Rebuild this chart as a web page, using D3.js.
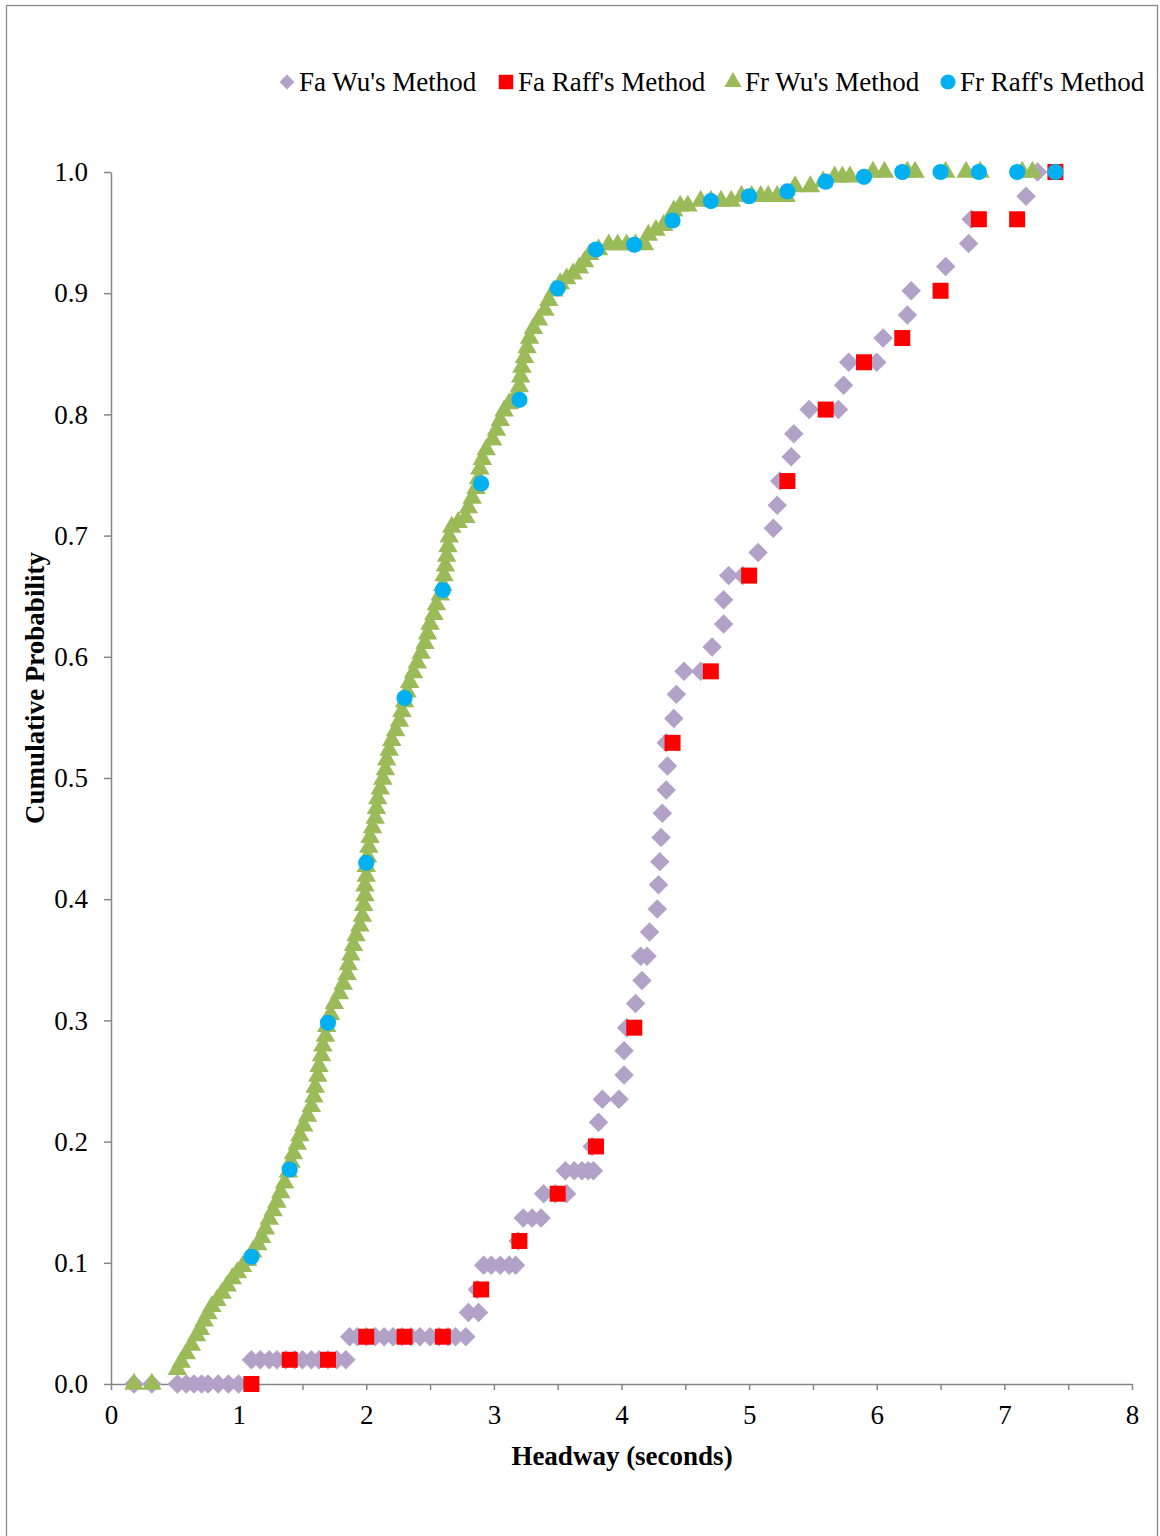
<!DOCTYPE html>
<html>
<head>
<meta charset="utf-8">
<script src="https://cdn.jsdelivr.net/npm/d3@7"></script>
<style>
    body { margin: 0; background: #fff; }
    svg text { font-family: 'Liberation Serif', 'Times New Roman', serif; fill: #000; }
</style>
</head>
<body>
<div id="chart"></div>
<script>
// series names, in legend order
const SERIES = ["Fa Wu's Method", "Fa Raff's Method", "Fr Wu's Method", "Fr Raff's Method"];
const COLORS = ['#b3a2c7', '#ff0000', '#9bbb59', '#00b0f0'];

// Raff's method: one point per 0.3 s bin
const RAFF_X = [1.1, 1.4, 1.7, 2.0, 2.3, 2.6, 2.9, 3.2, 3.5, 3.8, 4.1, 4.4, 4.7, 5.0, 5.3, 5.6, 5.9, 6.2, 6.5, 6.8, 7.1, 7.4];
const FA_RAFF_Y = [0, 0.020, 0.020, 0.039, 0.039, 0.039, 0.078, 0.118, 0.157, 0.196, 0.294, 0.529, 0.588, 0.667, 0.745, 0.804, 0.843, 0.863, 0.902, 0.961, 0.961, 1.0];
const FR_RAFF_Y = [0.105, 0.177, 0.298, 0.430, 0.566, 0.655, 0.743, 0.812, 0.904, 0.936, 0.940, 0.960, 0.976, 0.980, 0.984, 0.992, 0.996, 1.0, 1.0, 1.0, 1.0, 1.0];

// Wu's method, Fa: [headway, cumulative probability]
const FA_WU = [
    [0.18, 0], [0.32, 0], [0.52, 0], [0.59, 0], [0.65, 0], [0.71, 0], [0.76, 0], [0.84, 0], [0.92, 0], [1.0, 0],
    [1.10, 0.020], [1.17, 0.020], [1.24, 0.020], [1.30, 0.020], [1.37, 0.020], [1.44, 0.020], [1.50, 0.020],
    [1.57, 0.020], [1.63, 0.020], [1.70, 0.020], [1.77, 0.020], [1.84, 0.020],
    [1.87, 0.039], [1.93, 0.039], [2.00, 0.039], [2.07, 0.039], [2.14, 0.039], [2.21, 0.039], [2.28, 0.039],
    [2.35, 0.039], [2.42, 0.039], [2.50, 0.039], [2.57, 0.039], [2.64, 0.039], [2.70, 0.039], [2.78, 0.039],
    [2.80, 0.059], [2.88, 0.059], [2.87, 0.078],
    [2.92, 0.098], [2.98, 0.098], [3.05, 0.098], [3.12, 0.098], [3.17, 0.098], [3.19, 0.118],
    [3.23, 0.137], [3.30, 0.137], [3.37, 0.137], [3.39, 0.157], [3.48, 0.157], [3.57, 0.157],
    [3.56, 0.176], [3.63, 0.176], [3.69, 0.176], [3.74, 0.176], [3.78, 0.176],
    [3.77, 0.196], [3.82, 0.216], [3.85, 0.235], [3.98, 0.235], [4.02, 0.255], [4.02, 0.275], [4.04, 0.294],
    [4.11, 0.314], [4.16, 0.333], [4.15, 0.353], [4.20, 0.353], [4.22, 0.373], [4.28, 0.392], [4.29, 0.412],
    [4.30, 0.431], [4.31, 0.451], [4.32, 0.471], [4.35, 0.490], [4.36, 0.510], [4.35, 0.529], [4.41, 0.549],
    [4.43, 0.569], [4.49, 0.588], [4.62, 0.588], [4.71, 0.608], [4.80, 0.627], [4.80, 0.647], [4.84, 0.667],
    [4.95, 0.667], [5.07, 0.686], [5.19, 0.706], [5.22, 0.725], [5.24, 0.745], [5.33, 0.765], [5.35, 0.784],
    [5.47, 0.804], [5.70, 0.804], [5.74, 0.824], [5.78, 0.843], [6.00, 0.843], [6.05, 0.863], [6.24, 0.882],
    [6.27, 0.902], [6.54, 0.922], [6.72, 0.941], [6.74, 0.961], [7.17, 0.980], [7.26, 1.0]
];

// Wu's method, Fr: [headway, cumulative probability]
const FR_WU = [
    [0.18, 0], [0.32, 0], [0.52, 0.012], [0.55, 0.018], [0.59, 0.025], [0.63, 0.032], [0.67, 0.040],
    [0.70, 0.045], [0.73, 0.052], [0.76, 0.058], [0.79, 0.064], [0.83, 0.069], [0.87, 0.075], [0.91, 0.081],
    [0.95, 0.087], [0.99, 0.092], [1.03, 0.097], [1.07, 0.102], [1.11, 0.109], [1.15, 0.115], [1.18, 0.121],
    [1.21, 0.128], [1.24, 0.136], [1.27, 0.143], [1.30, 0.150], [1.33, 0.158], [1.36, 0.166], [1.39, 0.175],
    [1.41, 0.183], [1.43, 0.190], [1.46, 0.198], [1.48, 0.205], [1.51, 0.213], [1.54, 0.221], [1.57, 0.229],
    [1.59, 0.237], [1.60, 0.245], [1.62, 0.254], [1.63, 0.262], [1.65, 0.271], [1.66, 0.279], [1.68, 0.287],
    [1.69, 0.295], [1.72, 0.305], [1.75, 0.314], [1.79, 0.322], [1.82, 0.330], [1.85, 0.338], [1.86, 0.346],
    [1.88, 0.354], [1.90, 0.362], [1.92, 0.370], [1.95, 0.378], [1.97, 0.386], [1.98, 0.395], [1.99, 0.403],
    [1.99, 0.411], [2.00, 0.419], [2.00, 0.427], [2.01, 0.435], [2.02, 0.443], [2.03, 0.451], [2.05, 0.459],
    [2.07, 0.467], [2.08, 0.475], [2.09, 0.483], [2.11, 0.491], [2.13, 0.499], [2.15, 0.507], [2.16, 0.515],
    [2.18, 0.523], [2.20, 0.531], [2.23, 0.539], [2.26, 0.547], [2.28, 0.555], [2.30, 0.563], [2.32, 0.571],
    [2.34, 0.579], [2.37, 0.587], [2.40, 0.595], [2.43, 0.603], [2.46, 0.611], [2.48, 0.619], [2.50, 0.627],
    [2.53, 0.635], [2.55, 0.643], [2.58, 0.651], [2.60, 0.659], [2.61, 0.667], [2.62, 0.675], [2.63, 0.683],
    [2.64, 0.691], [2.65, 0.699], [2.67, 0.707], [2.72, 0.711], [2.78, 0.715], [2.80, 0.723], [2.83, 0.731],
    [2.86, 0.739], [2.88, 0.747], [2.89, 0.755], [2.91, 0.763], [2.94, 0.771], [2.99, 0.779], [3.02, 0.787],
    [3.05, 0.795], [3.08, 0.803], [3.12, 0.809], [3.17, 0.815], [3.20, 0.823], [3.21, 0.831], [3.22, 0.839],
    [3.24, 0.847], [3.26, 0.855], [3.28, 0.863], [3.31, 0.871], [3.35, 0.878], [3.40, 0.886], [3.43, 0.894],
    [3.47, 0.902], [3.52, 0.908], [3.57, 0.912], [3.62, 0.916], [3.67, 0.921], [3.71, 0.926], [3.75, 0.932],
    [3.82, 0.936], [3.90, 0.940], [3.97, 0.940], [4.04, 0.940], [4.11, 0.940], [4.18, 0.940], [4.21, 0.948],
    [4.27, 0.952], [4.33, 0.956], [4.38, 0.960], [4.41, 0.968], [4.46, 0.972], [4.52, 0.972], [4.62, 0.976],
    [4.70, 0.976], [4.78, 0.976], [4.86, 0.976], [4.94, 0.980], [5.02, 0.980], [5.09, 0.980], [5.15, 0.980],
    [5.22, 0.980], [5.29, 0.980], [5.36, 0.988], [5.48, 0.988], [5.58, 0.992], [5.67, 0.996], [5.73, 0.996],
    [5.79, 0.996], [5.97, 1.0], [6.06, 1.0], [6.24, 1.0], [6.30, 1.0], [6.54, 1.0], [6.70, 1.0], [6.81, 1.0],
    [7.14, 1.0], [7.22, 1.0]
];

const X_TICKS = [0, 0.5, 1, 1.5, 2, 2.5, 3, 3.5, 4, 4.5, 5, 5.5, 6, 6.5, 7, 7.5, 8];
const Y_TICKS = [0, 0.1, 0.2, 0.3, 0.4, 0.5, 0.6, 0.7, 0.8, 0.9, 1.0];
const X_TITLE = 'Headway (seconds)';
const Y_TITLE = 'Cumulative Probability';

const W = 1160;
const H = 1536;
const plot = { left: 111, right: 1132, top: 172, bottom: 1384 };
const AXIS_COLOR = '#868686';
const FONT_SIZE = 27;

const svg = d3.select('#chart')
    .append('svg')
    .attr('width', W)
    .attr('height', H);

// outer chart border
svg.append('rect')
    .attr('x', 6.5)
    .attr('y', 5.5)
    .attr('width', 1151)
    .attr('height', 1560)
    .attr('fill', '#fff')
    .attr('stroke', '#8c8c8c')
    .attr('stroke-width', 1.3);

const xScale = d3.scaleLinear().domain([0, 8]).range([plot.left, plot.right]);
const yScale = d3.scaleLinear().domain([0, 1]).range([plot.bottom, plot.top]);

// axes
const xAxis = d3.axisBottom(xScale)
    .tickValues(X_TICKS)
    .tickSize(6)
    .tickSizeOuter(0)
    .tickPadding(15)
    .tickFormat((d) => (Number.isInteger(d) ? d : ''));

const yAxis = d3.axisLeft(yScale)
    .tickValues(Y_TICKS)
    .tickSize(7)
    .tickSizeOuter(0)
    .tickPadding(16)
    .tickFormat(d3.format('.1f'));

const styleAxis = (g) => {
    g.select('.domain').attr('stroke', AXIS_COLOR).attr('stroke-width', 1.5);
    g.selectAll('.tick line').attr('stroke', AXIS_COLOR).attr('stroke-width', 1.5);
    g.selectAll('.tick text')
        .attr('font-family', "'Liberation Serif', 'Times New Roman', serif")
        .attr('font-size', FONT_SIZE)
        .attr('fill', '#000');
};

svg.append('g')
    .attr('transform', 'translate(0,' + plot.bottom + ')')
    .call(xAxis)
    .call(styleAxis);

svg.append('g')
    .attr('transform', 'translate(' + plot.left + ',0)')
    .call(yAxis)
    .call(styleAxis);

// axis titles
svg.append('text')
    .attr('x', 622)
    .attr('y', 1465)
    .attr('text-anchor', 'middle')
    .attr('font-size', FONT_SIZE)
    .attr('font-weight', 'bold')
    .text(X_TITLE);

svg.append('text')
    .attr('transform', 'translate(44,688) rotate(-90)')
    .attr('text-anchor', 'middle')
    .attr('font-size', FONT_SIZE)
    .attr('font-weight', 'bold')
    .text(Y_TITLE);

// marker shapes for each series
const SYMBOLS = [
    { type: d3.symbolSquare, size: 190, rotate: 45 },
    { type: d3.symbolSquare, size: 256, rotate: 0 },
    { type: d3.symbolTriangle, size: 165, rotate: 0 },
    { type: d3.symbolCircle, size: 205, rotate: 0 }
];
const LEGEND_SYMBOLS = [
    { type: d3.symbolSquare, size: 110, rotate: 45 },
    { type: d3.symbolSquare, size: 210, rotate: 0 },
    { type: d3.symbolTriangle, size: 130, rotate: 0 },
    { type: d3.symbolCircle, size: 180, rotate: 0 }
];

const seriesData = [
    FA_WU,
    RAFF_X.map((x, i) => [x, FA_RAFF_Y[i]]),
    FR_WU,
    RAFF_X.map((x, i) => [x, FR_RAFF_Y[i]])
];

seriesData.forEach((points, i) => {
    const sym = SYMBOLS[i];
    svg.append('g')
        .attr('class', 'series-' + i)
        .selectAll('path')
        .data(points)
        .enter()
        .append('path')
        .attr('d', d3.symbol().type(sym.type).size(sym.size)())
        .attr('transform', (d) =>
            'translate(' + xScale(d[0]) + ',' + yScale(d[1]) + ') rotate(' + sym.rotate + ')')
        .attr('fill', COLORS[i]);
});

// legend
const legendX = [287, 506, 733, 948];
const legendY = 82;
const legend = svg.append('g').attr('class', 'legend');
SERIES.forEach((name, i) => {
    const sym = LEGEND_SYMBOLS[i];
    const item = legend.append('g')
        .attr('transform', 'translate(' + legendX[i] + ',' + legendY + ')');
    item.append('path')
        .attr('d', d3.symbol().type(sym.type).size(sym.size)())
        .attr('transform', 'rotate(' + sym.rotate + ')')
        .attr('fill', COLORS[i]);
    item.append('text')
        .attr('x', 12)
        .attr('y', 9)
        .attr('font-size', FONT_SIZE)
        .text(name);
});
</script>
</body>
</html>
